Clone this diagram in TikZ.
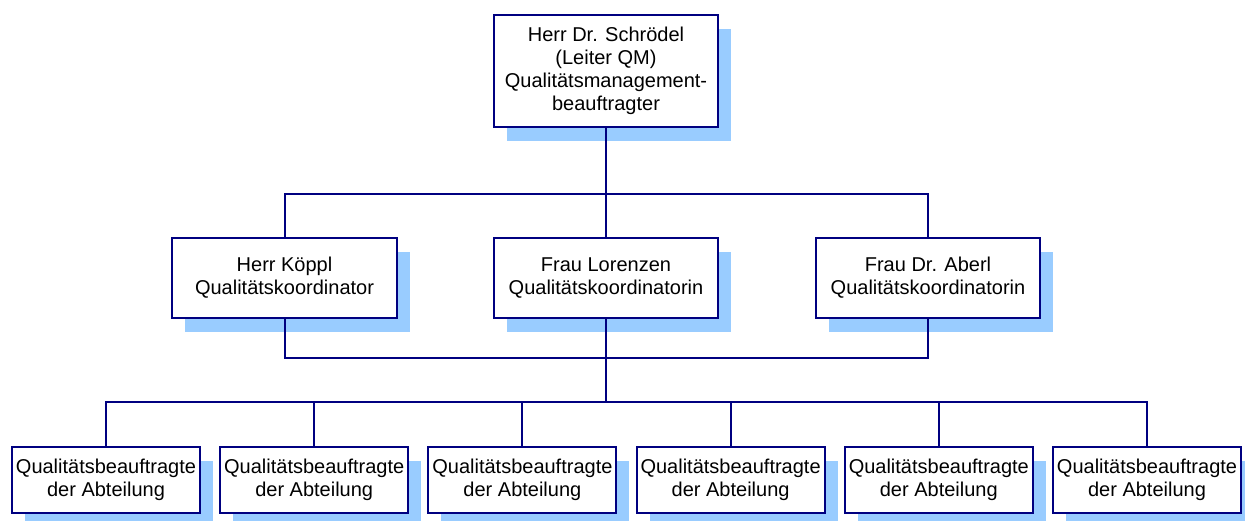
\documentclass[tikz,border=0pt]{standalone}
\usepackage{fontspec}
\setmainfont{Liberation Sans}
\usetikzlibrary{shadows}
\definecolor{orgline}{RGB}{0,0,128}
\definecolor{orgshadow}{RGB}{153,204,255}

\begin{document}
\begin{tikzpicture}[x=1pt, y=-1pt,
  orgbox/.style={draw=orgline, line width=2pt, fill=white, align=center,
    inner sep=0pt, font=\fontsize{20}{23}\selectfont,
    drop shadow={shadow xshift=13pt, shadow yshift=-14pt,
      fill=orgshadow, opacity=1}},
  link/.style={draw=orgline, line width=2pt},
]
  \useasboundingbox (0,0) rectangle (1245,520);
  % Leitung
  \node[orgbox, minimum width=224pt, minimum height=112pt] (qm) at (606,71)
    {Herr Dr. Schrödel\\(Leiter QM)\\Qualitätsmanagement-\\beauftragter};
  % Koordinatoren
  \node[orgbox, minimum width=225pt, minimum height=80pt] (koeppl) at (284.5,278)
    {Herr Köppl\\Qualitätskoordinator};
  \node[orgbox, minimum width=224pt, minimum height=80pt] (lorenzen) at (606,278)
    {Frau Lorenzen\\Qualitätskoordinatorin};
  \node[orgbox, minimum width=224pt, minimum height=80pt] (aberl) at (928,278)
    {Frau Dr. Aberl\\Qualitätskoordinatorin};
  % Abteilungen
  \foreach \i in {1,...,6}
    \node[orgbox, minimum width=188pt, minimum height=66pt] (dept\i)
      at ({106+208.2*(\i-1)},480) {Qualitätsbeauftragte\\der Abteilung};
  \coordinate (upperbus) at (606,194);
  \coordinate (lowerbus) at (606,358);
  \coordinate (deptbus) at (606,402);
  \draw[link] (qm.south) -- (upperbus);
  \draw[link] (koeppl.north) |- (upperbus) -| (aberl.north);
  \draw[link] (lorenzen.north) -- (upperbus);
  \draw[link] (koeppl.south) |- (lowerbus) -| (aberl.south);
  \draw[link] (lorenzen.south) -- (deptbus);
  \draw[link] (dept1.north) |- (deptbus) -| (dept6.north);
  \foreach \i in {2,...,5}
    \draw[link] (dept\i.north) -- (dept\i.north |- deptbus);
\end{tikzpicture}
\end{document}
